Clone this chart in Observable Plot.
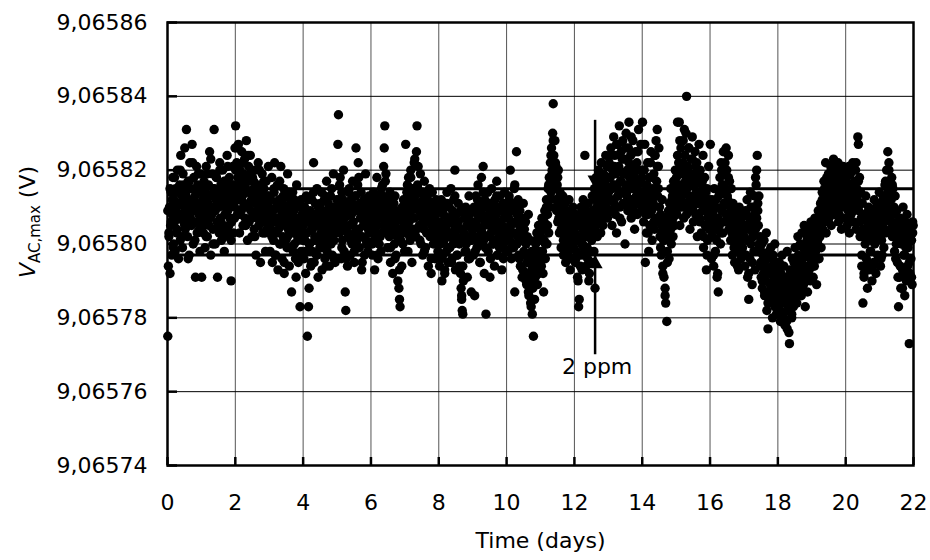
<!DOCTYPE html>
<html><head><meta charset="utf-8">
<script src="https://cdn.jsdelivr.net/npm/d3@7"></script>
<script src="https://cdn.jsdelivr.net/npm/@observablehq/plot@0.6"></script>
<style>body{margin:0;background:#fff}#chart{width:930px;height:560px}</style>
</head><body><div id="chart"></div>
<script>
// Values are offsets in µV from the base voltage, one array per day, in time order
const baseV = 9.0658;
const d0 = [-25,-6,2,10,-8,5,14,-3,8,18,0,12,6,-2,15,9,3,20,7,-4,11,16,1,24,8,13,-1,19,6,10,26,4,14,31,9,2,17,12,-3,22,7,15,5,27,11,0,18,9,13,-9,6,21,3,16,10,8,14,-2,19,5];
const d1 = [-9,6,12,3,17,9,-1,14,21,7,2,11,16,5,25,10,-3,13,8,19,4,15,31,9,0,12,18,6,-9,14,10,3,22,7,16,1,11,20,5,13,-2,8,17,12,4,24,9,15,2,18,7,11,-10,6,14,21,3,16,10,26];
const d2 = [32,14,22,8,18,27,12,3,20,16,9,25,13,5,19,11,23,7,15,28,10,1,17,21,6,14,24,9,12,2,18,8,15,4,20,11,-3,13,7,16,22,5,10,14,-5,8,12,19,3,9,15,6,11,-2,17,4,13,7,21,10];
const d3v = [8,-2,12,4,18,-5,9,1,14,22,6,-3,10,3,16,-7,7,12,0,5,21,9,-4,11,2,15,-8,6,13,1,8,-1,19,4,10,-6,3,12,7,-13,5,14,-2,9,0,11,4,-9,16,6,2,-5,10,7,-17,3,12,-3,8,1];
const d4 = [5,-4,10,1,-8,13,3,-25,7,-17,-12,0,9,-6,4,12,-2,6,22,-5,2,11,8,-3,15,1,-9,5,10,-1,7,3,14,-7,4,9,0,12,-4,6,2,17,-2,8,11,3,-6,5,13,0,9,-3,6,19,1,10,-5,4,8,12];
const d5 = [6,27,35,12,3,18,8,-4,14,1,10,20,-2,7,-13,-18,4,11,-6,9,2,15,5,-3,12,8,0,17,6,10,-5,3,13,26,9,1,16,22,4,-1,11,7,14,-7,2,9,5,12,-3,8,19,1,6,10,-2,4,13,7,0,11];
const d6 = [4,10,-3,8,14,1,-7,6,12,2,18,5,-4,9,0,11,7,-2,15,3,13,8,21,26,32,17,9,4,12,-1,6,10,2,14,-5,7,3,11,-8,5,9,0,13,6,-3,8,2,-10,4,-12,-15,-17,1,7,-6,10,3,12,5,-2];
const d7 = [8,27,3,14,10,-2,18,6,12,1,20,9,-5,15,4,11,7,23,13,2,25,32,16,21,9,5,14,19,0,11,7,-3,12,4,17,8,-1,10,3,13,6,-6,9,15,2,11,-8,5,14,7,0,10,4,-4,8,12,1,6,-2,9];
const d8 = [3,-6,9,0,12,-10,5,-3,8,1,-8,11,4,-2,14,6,-5,2,10,-1,7,15,3,-4,9,0,12,5,20,-7,2,8,-3,6,11,1,-6,4,9,-12,-15,-18,-19,-10,3,7,-2,10,0,5,-9,8,2,13,-4,6,1,-13,4,9];
const d9 = [6,-3,10,-14,2,13,5,-1,8,16,0,11,4,-5,9,18,3,7,21,1,-8,12,6,-19,10,2,14,-2,8,5,11,-4,3,15,7,0,9,4,-6,12,1,8,17,-3,6,10,2,-1,13,5,9,-7,3,11,0,7,14,4,-2,8];
const d10 = [4,10,-2,7,13,1,20,5,-4,9,3,11,-1,15,-13,6,0,25,8,2,12,-3,5,9,-6,1,7,-9,3,11,-2,4,-8,6,0,-11,2,-5,8,-14,-3,1,-10,-17,-7,-19,-12,-25,-4,-15,-9,0,-6,3,-11,-2,5,-8,1,-4];
const d11 = [2,-6,7,-2,4,-13,1,9,-4,5,12,0,8,15,3,18,10,22,14,26,19,30,38,24,17,28,12,21,9,16,6,20,11,3,14,8,-1,10,5,13,-3,7,2,11,-5,4,9,0,6,-2,12,3,-7,8,1,5,-4,10,-1,6];
const d12 = [3,-5,8,-2,5,-9,1,-17,-15,6,-3,10,0,-7,4,12,-1,7,24,2,-6,9,5,-4,11,-10,3,8,-2,6,1,13,-5,9,4,15,-12,7,18,10,2,14,20,6,11,17,3,22,9,13,5,19,12,8,16,24,10,21,7,15];
const d13 = [14,22,9,18,26,12,5,20,16,29,11,24,8,19,3,15,27,13,21,32,10,17,25,6,14,28,19,11,23,0,16,30,13,20,9,26,33,18,12,24,7,21,15,28,10,19,4,17,25,13,22,8,16,31,11,20,14,27,9,18];
const d14 = [33,14,6,20,10,-5,16,3,12,22,8,-2,18,5,13,25,9,1,15,11,19,4,24,7,28,17,31,13,21,26,10,2,8,-3,5,12,-6,1,-9,4,-12,-16,7,-21,-2,3,9,-4,11,6,15,0,8,13,2,17,10,5,20,14];
const d15 = [18,8,33,12,22,33,5,16,26,10,20,14,28,7,19,24,11,30,40,15,21,9,26,13,4,17,23,10,29,16,6,19,12,25,8,14,22,2,17,11,27,7,20,13,3,16,9,24,-1,12,18,5,10,-7,15,1,8,21,4,11];
const d16 = [27,6,-4,12,2,9,-6,15,4,-2,10,1,7,-8,-13,13,5,18,0,22,9,16,3,25,11,19,6,14,26,20,8,12,24,4,17,10,1,15,7,-3,11,2,8,-5,5,0,9,-2,6,3,-7,10,1,4,-4,7,2,-1,8,5];
const d17 = [2,-6,9,-3,5,12,-9,1,-15,7,-4,14,0,6,-11,3,10,-2,8,-7,4,16,20,24,11,5,13,-1,2,-5,-9,0,-12,-3,-8,1,-14,-6,-10,3,-18,-4,-23,-13,-2,-8,-15,-1,-11,-6,-20,-3,-9,-16,0,-12,-7,-19,-5,-10];
const d18 = [-10,-17,-5,-13,-21,-8,-15,-3,-19,-11,-6,-14,-22,-9,-16,-21,-2,-12,-18,-24,-27,-7,-15,-10,-20,-4,-13,-17,-8,-11,-1,-14,-6,-16,-9,2,-12,-5,-10,0,-7,-14,3,-9,-4,-11,5,-6,-17,-2,-8,1,-13,-3,4,-7,0,-10,6,-5];
const d19 = [-3,4,-9,1,-6,7,-2,3,-11,5,0,9,-4,6,2,11,-1,8,14,4,10,17,6,12,22,3,15,9,13,19,7,16,11,21,5,14,18,10,23,12,8,17,15,20,9,13,22,6,16,11,19,14,4,18,10,21,7,15,12,17];
const d20 = [12,18,5,15,9,21,3,14,19,8,16,11,22,6,13,17,10,20,4,15,12,29,27,9,18,2,14,7,-6,11,-16,3,-9,8,0,13,-4,6,-12,2,10,-7,5,-2,9,1,-10,7,3,-5,12,0,6,-8,4,11,-3,8,2,14];
const d21 = [5,-6,10,1,-3,8,13,-1,6,16,3,11,20,7,25,14,22,9,17,4,12,18,2,15,8,10,-2,13,5,0,9,-5,6,-17,3,-9,7,-12,1,4,-7,10,-3,2,-14,6,-1,-10,8,-6,0,3,-27,-8,5,-4,1,-11,6,5];
// second readings pass (interleaved samples), µV offsets, one array per day
const e0 = [9,3,15,6,12,-1,18,10,4,14,7,20,2,11,16,5,13,8,-4,17,10,6,22,12,1,15,9,19,4,11];
const e1 = [11,5,16,8,2,19,13,7,23,10,0,15,9,18,4,12,20,6,14,3,17,10,8,21,5,13,1,16,11,7];
const e2 = [20,12,26,15,8,18,22,10,16,5,14,24,11,19,7,13,17,2,15,9,12,20,6,14,10,17,3,11,8,13];
const e3 = [6,12,2,9,15,-3,7,11,4,17,0,8,13,-5,5,10,2,14,-1,6,9,3,12,-4,7,1,11,5,-2,8];
const e4 = [3,9,-2,6,12,0,8,-5,4,14,1,7,-3,10,5,11,-1,6,2,13,-6,4,9,0,7,15,2,-4,8,5];
const e5 = [10,4,16,7,-1,12,5,9,-4,3,14,8,1,11,6,-2,13,4,9,18,2,7,-5,10,5,12,0,8,3,6];
const e6 = [6,0,11,4,9,-3,7,13,2,8,16,5,10,19,7,3,12,-1,8,5,11,-4,6,2,9,-7,3,8,0,6];
const e7 = [12,5,16,9,2,18,7,13,22,10,4,15,11,1,8,14,5,-2,10,6,12,3,9,-4,7,11,2,8,4,10];
const e8 = [0,6,-4,9,2,-7,5,11,-1,7,3,-5,8,1,13,4,-3,6,0,-8,-14,-6,2,9,-2,5,-4,8,1,5];
const e9 = [4,9,-2,6,12,1,-5,8,3,14,5,-1,10,7,2,-9,6,11,0,8,4,13,-3,6,9,1,5,-4,10,3];
const e10 = [8,2,12,5,-1,9,3,16,6,0,10,-4,4,7,-7,2,-3,-10,-5,-13,-8,-16,-2,-11,-6,-9,1,-5,2,-7];
const e11 = [-2,4,-8,6,0,10,5,16,12,24,20,28,15,22,10,18,7,13,4,9,1,11,6,-2,8,3,-4,5,0,7];
const e12 = [1,-4,6,-10,2,-6,8,0,-3,5,11,-1,4,-8,7,2,9,-2,12,5,16,8,13,19,10,15,7,18,12,14];
const e13 = [18,12,24,15,9,21,16,27,13,20,7,17,23,11,19,26,14,10,22,16,29,12,18,8,20,15,25,11,17,13];
const e14 = [20,12,27,8,16,3,14,22,10,18,6,24,13,21,15,6,-1,3,-8,1,-14,5,-5,2,8,4,12,7,16,10];
const e15 = [15,24,10,28,19,13,22,31,17,8,20,26,12,18,23,9,16,21,11,14,19,6,13,17,2,10,14,-3,7,12];
const e16 = [10,2,8,-3,5,12,-9,7,14,3,20,10,16,22,8,13,18,6,11,3,8,-1,5,2,-6,4,0,7,-3,3];
const e17 = [5,-3,8,1,-8,4,10,-5,2,13,18,7,9,0,-6,-2,-10,-5,-13,-8,-3,-16,-7,-11,-14,-4,-12,-17,-8,-6];
const e18 = [-14,-9,-18,-12,-6,-20,-15,-10,-23,-17,-13,-8,-19,-11,-5,-15,-9,-13,-3,-10,-7,-12,-1,-6,-9,-3,2,-7,-2,-4];
const e19 = [0,-6,3,-2,6,1,-4,8,4,12,7,15,10,18,13,16,9,20,14,11,17,12,19,15,8,16,13,20,11,14];
const e20 = [14,10,19,7,16,12,20,9,15,22,13,17,6,11,-3,4,-8,7,1,-5,9,3,-2,6,-6,8,2,10,4,7];
const e21 = [2,-4,7,12,4,17,10,15,20,12,6,16,9,3,-4,2,-9,5,-6,0,-12,3,-3,-8,4,-1,-5,2,-9,3];
const daysA = [d0,d1,d2,d3v,d4,d5,d6,d7,d8,d9,d10,d11,d12,d13,d14,d15,d16,d17,d18,d19,d20,d21];
const daysB = [e0,e1,e2,e3,e4,e5,e6,e7,e8,e9,e10,e11,e12,e13,e14,e15,e16,e17,e18,e19,e20,e21];

const xTicks = [0,2,4,6,8,10,12,14,16,18,20,22];
const yTicks = [9.06574,9.06576,9.06578,9.0658,9.06582,9.06584,9.06586];
const refLevels = [9.065815, 9.065797];
const arrowDay = 12.61;
const arrowTop = 9.0658335;
const arrowBottom = 9.06577;
const ppmText = "2 ppm";
const ppmY = 9.0657668;

const toRows = (set, phase) => set.flatMap((vals, d) => vals.map((v, i) => ({t: d + (i + phase) / vals.length, v: baseV + v * 1e-6})));
const data = toRows(daysA, 0.5).concat(toRows(daysB, 0.25));
const fmt = v => v.toFixed(5).replace(".", ",");
const FONT = "'DejaVu Sans', sans-serif";

const s3 = Math.sqrt(3);
const triDown = {draw(ctx, size) { const y = Math.sqrt(size / (s3 * 3)); ctx.moveTo(0, 2 * y); ctx.lineTo(-s3 * y, -y); ctx.lineTo(s3 * y, -y); ctx.closePath(); }};
const triUp = {draw(ctx, size) { const y = Math.sqrt(size / (s3 * 3)); ctx.moveTo(0, -2 * y); ctx.lineTo(-s3 * y, y); ctx.lineTo(s3 * y, y); ctx.closePath(); }};

const plot = Plot.plot({
  width: 930, height: 560,
  marginLeft: 167, marginRight: 17, marginTop: 22, marginBottom: 95,
  style: {fontFamily: FONT, fontSize: "22px", color: "black", background: "white", overflow: "visible"},
  x: {domain: [0, 22]},
  y: {domain: [9.06574, 9.06586]},
  marks: [
    Plot.gridX(xTicks, {stroke: "#555", strokeOpacity: 1, strokeWidth: 1}),
    Plot.gridY(yTicks, {stroke: "#000", strokeOpacity: 1, strokeWidth: 1}),
    Plot.dot(data, {x: "t", y: "v", r: 4.7, fill: "black", stroke: "none"}),
    Plot.ruleY(refLevels, {stroke: "black", strokeWidth: 3}),
    Plot.ruleX([{x: arrowDay, y1: refLevels[0], y2: arrowTop}, {x: arrowDay, y1: arrowBottom, y2: refLevels[1]}], {x: "x", y1: "y1", y2: "y2", stroke: "black", strokeWidth: 2.5}),
    Plot.dot([{x: arrowDay, y: refLevels[0]}], {x: "x", y: "y", symbol: triDown, r: 5.6, dy: -8.7, fill: "black", stroke: "none"}),
    Plot.dot([{x: arrowDay, y: refLevels[1]}], {x: "x", y: "y", symbol: triUp, r: 5.6, dy: 8.7, fill: "black", stroke: "none"}),
    Plot.text([ppmText], {x: arrowDay, y: ppmY, dx: 2, fontSize: 22, fill: "black", textAnchor: "middle"}),
    Plot.frame({stroke: "black", strokeWidth: 2.5}),
    Plot.axisX(xTicks, {tickSize: -8, strokeWidth: 2.5, text: null, label: null}),
    Plot.axisY(yTicks, {tickSize: -10, strokeWidth: 2.5, text: null, label: null}),
    Plot.axisX(xTicks, {tickSize: 0, tickPadding: 29, label: null, fontSize: 22, tickFormat: d => String(d)}),
    Plot.axisY(yTicks, {tickSize: 0, tickPadding: 20, tickFormat: fmt, label: null, fontSize: 22}),
    Plot.text(["Time (days)"], {frameAnchor: "bottom", dy: 82, fontSize: 22, fill: "black"})
  ]
});
document.getElementById("chart").appendChild(plot);

const svg = d3.select(plot);
const yl = svg.append("text")
  .attr("transform", "translate(35,222) rotate(-90)")
  .attr("text-anchor", "middle")
  .attr("font-family", FONT)
  .attr("font-size", 22)
  .attr("fill", "black");
yl.append("tspan").attr("font-style", "italic").text("V");
yl.append("tspan").attr("font-size", 15).attr("dy", 5).text("AC,max");
yl.append("tspan").attr("dy", -5).text("\u00a0(V)");
</script>
</body></html>
